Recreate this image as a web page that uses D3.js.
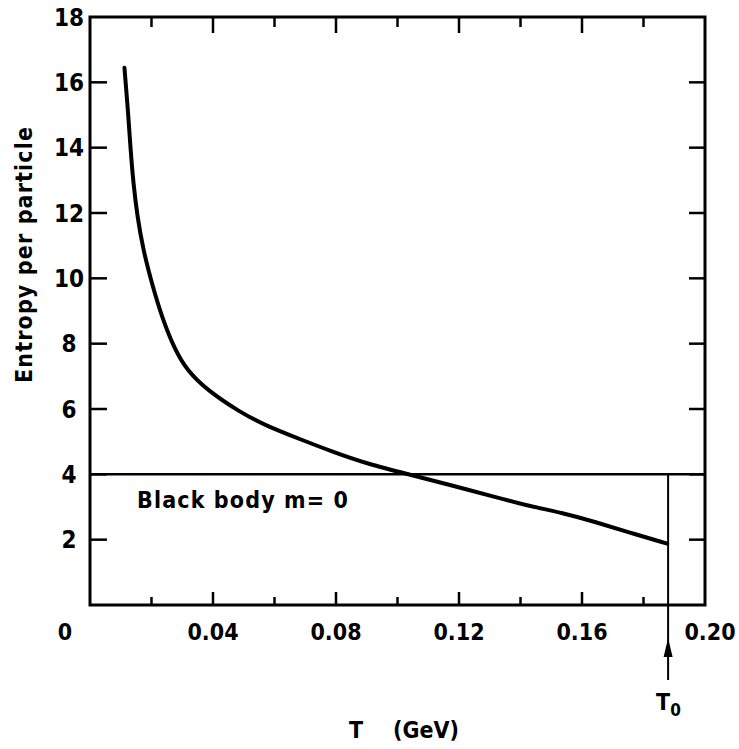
<!DOCTYPE html>
<html>
<head>
<meta charset="utf-8">
<script src="https://cdn.jsdelivr.net/npm/d3@7"></script>
<style>
  body { margin: 0; background: #fff; }
  text { font-family: "DejaVu Sans Condensed", "DejaVu Sans", sans-serif; font-stretch: condensed; font-weight: bold; fill: #000; }
</style>
</head>
<body>
<svg id="drawing_region"></svg>
<script>
// curve: temperature (GeV) vs entropy per particle
const temps = [0.0112, 0.0125, 0.0132, 0.0141, 0.0154, 0.0173, 0.0201, 0.0233, 0.0276, 0.0315,
               0.0380, 0.0488, 0.0574, 0.0682, 0.0789, 0.0898, 0.1045, 0.1169, 0.132, 0.1429,
               0.1536, 0.1645, 0.1753, 0.1877];
const entropy = [16.45, 14.95, 13.93, 12.91, 11.89, 10.87, 9.85, 8.83, 7.81, 7.19,
                 6.58, 5.9, 5.48, 5.08, 4.69, 4.33, 3.98, 3.68, 3.3, 3.03,
                 2.82, 2.54, 2.22, 1.88];
const blackBody = 4;      // m = 0 black body value
const T0 = 0.188;
const xTicks = [0, 0.04, 0.08, 0.12, 0.16, 0.20];
const xTickLabels = ["0", "0.04", "0.08", "0.12", "0.16", "0.20"];
const xMinor = [0.02, 0.06, 0.10, 0.14, 0.18];
const yTicks = [2, 4, 6, 8, 10, 12, 14, 16, 18];
const yTickLabels = ["2", "4", "6", "8", "10", "12", "14", "16", "18"];

const width = 739, height = 749;

const svg = d3.select('#drawing_region')
  .attr('width', width)
  .attr('height', height);

const x = d3.scaleLinear().domain([0, 0.2]).range([90, 705]);
const y = d3.scaleLinear().domain([0, 18]).range([605, 17]);

// frame
svg.append('rect')
  .attr('x', x(0)).attr('y', y(18))
  .attr('width', x(0.2) - x(0)).attr('height', y(0) - y(18))
  .attr('fill', 'none').attr('stroke', '#000').attr('stroke-width', 3);

// ticks (all pointing inward)
const tickG = svg.append('g').attr('stroke', '#000').attr('stroke-width', 2.5);
xTicks.slice(1, -1).forEach(t => {
  tickG.append('line').attr('x1', x(t)).attr('x2', x(t)).attr('y1', y(0)).attr('y2', y(0) - 13);
  tickG.append('line').attr('x1', x(t)).attr('x2', x(t)).attr('y1', y(18)).attr('y2', y(18) + 16);
});
xMinor.forEach(t => {
  tickG.append('line').attr('x1', x(t)).attr('x2', x(t)).attr('y1', y(0)).attr('y2', y(0) - 8);
  tickG.append('line').attr('x1', x(t)).attr('x2', x(t)).attr('y1', y(18)).attr('y2', y(18) + 10);
});
yTicks.slice(0, -1).forEach(v => {
  tickG.append('line').attr('x1', x(0)).attr('x2', x(0) + 17).attr('y1', y(v)).attr('y2', y(v));
  tickG.append('line').attr('x1', x(0.2)).attr('x2', x(0.2) - 16).attr('y1', y(v)).attr('y2', y(v));
});

// tick labels
svg.selectAll('.ylab')
  .data(yTicks)
  .enter()
  .append('text')
  .attr('x', 69)
  .attr('y', d => y(d))
  .attr('dy', '0.36em')
  .attr('text-anchor', 'middle')
  .attr('font-size', 24)
  .text((d, i) => yTickLabels[i]);

svg.selectAll('.xlab')
  .data(xTicks)
  .enter()
  .append('text')
  .attr('x', (d, i) => i === 0 ? x(d) - 25 : x(d) + (i === xTicks.length - 1 ? 5 : 0))
  .attr('y', 640)
  .attr('text-anchor', 'middle')
  .attr('font-size', 23)
  .text((d, i) => xTickLabels[i]);

// axis titles
svg.append('text')
  .attr('transform', 'translate(32,255) rotate(-90)')
  .attr('text-anchor', 'middle')
  .attr('font-size', 23)
  .attr('textLength', 256)
  .attr('lengthAdjust', 'spacing')
  .text('Entropy per particle');

svg.append('text')
  .attr('x', 349).attr('y', 738)
  .attr('font-size', 23)
  .text('T');
svg.append('text')
  .attr('x', 393).attr('y', 738)
  .attr('font-size', 23)
  .text('(GeV)');

// black body line
svg.append('line')
  .attr('x1', x(0)).attr('x2', x(0.2))
  .attr('y1', y(blackBody)).attr('y2', y(blackBody))
  .attr('stroke', '#000').attr('stroke-width', 2.5);

svg.append('text')
  .attr('x', 137).attr('y', 508)
  .attr('font-size', 23)
  .attr('textLength', 211)
  .attr('lengthAdjust', 'spacing')
  .text('Black body m= 0');

// T0 marker
svg.append('line')
  .attr('x1', x(T0)).attr('x2', x(T0))
  .attr('y1', y(blackBody)).attr('y2', 680)
  .attr('stroke', '#000').attr('stroke-width', 2);
svg.append('path')
  .attr('d', `M${x(T0)},638 L${x(T0) - 4.5},657 L${x(T0) + 4.5},657 Z`)
  .attr('fill', '#000');
const t0 = svg.append('text')
  .attr('x', x(T0) - 12).attr('y', 710)
  .attr('font-size', 23);
t0.append('tspan').text('T');
t0.append('tspan').attr('dy', 6).attr('font-size', 17).text('0');

// entropy curve
const line = d3.line()
  .x((d, i) => x(temps[i]))
  .y(d => y(d))
  .curve(d3.curveBasis);

svg.append('path')
  .datum(entropy)
  .attr('d', line)
  .attr('fill', 'none')
  .attr('stroke', '#000')
  .attr('stroke-width', 4)
  .attr('stroke-linecap', 'round');
</script>
</body>
</html>
